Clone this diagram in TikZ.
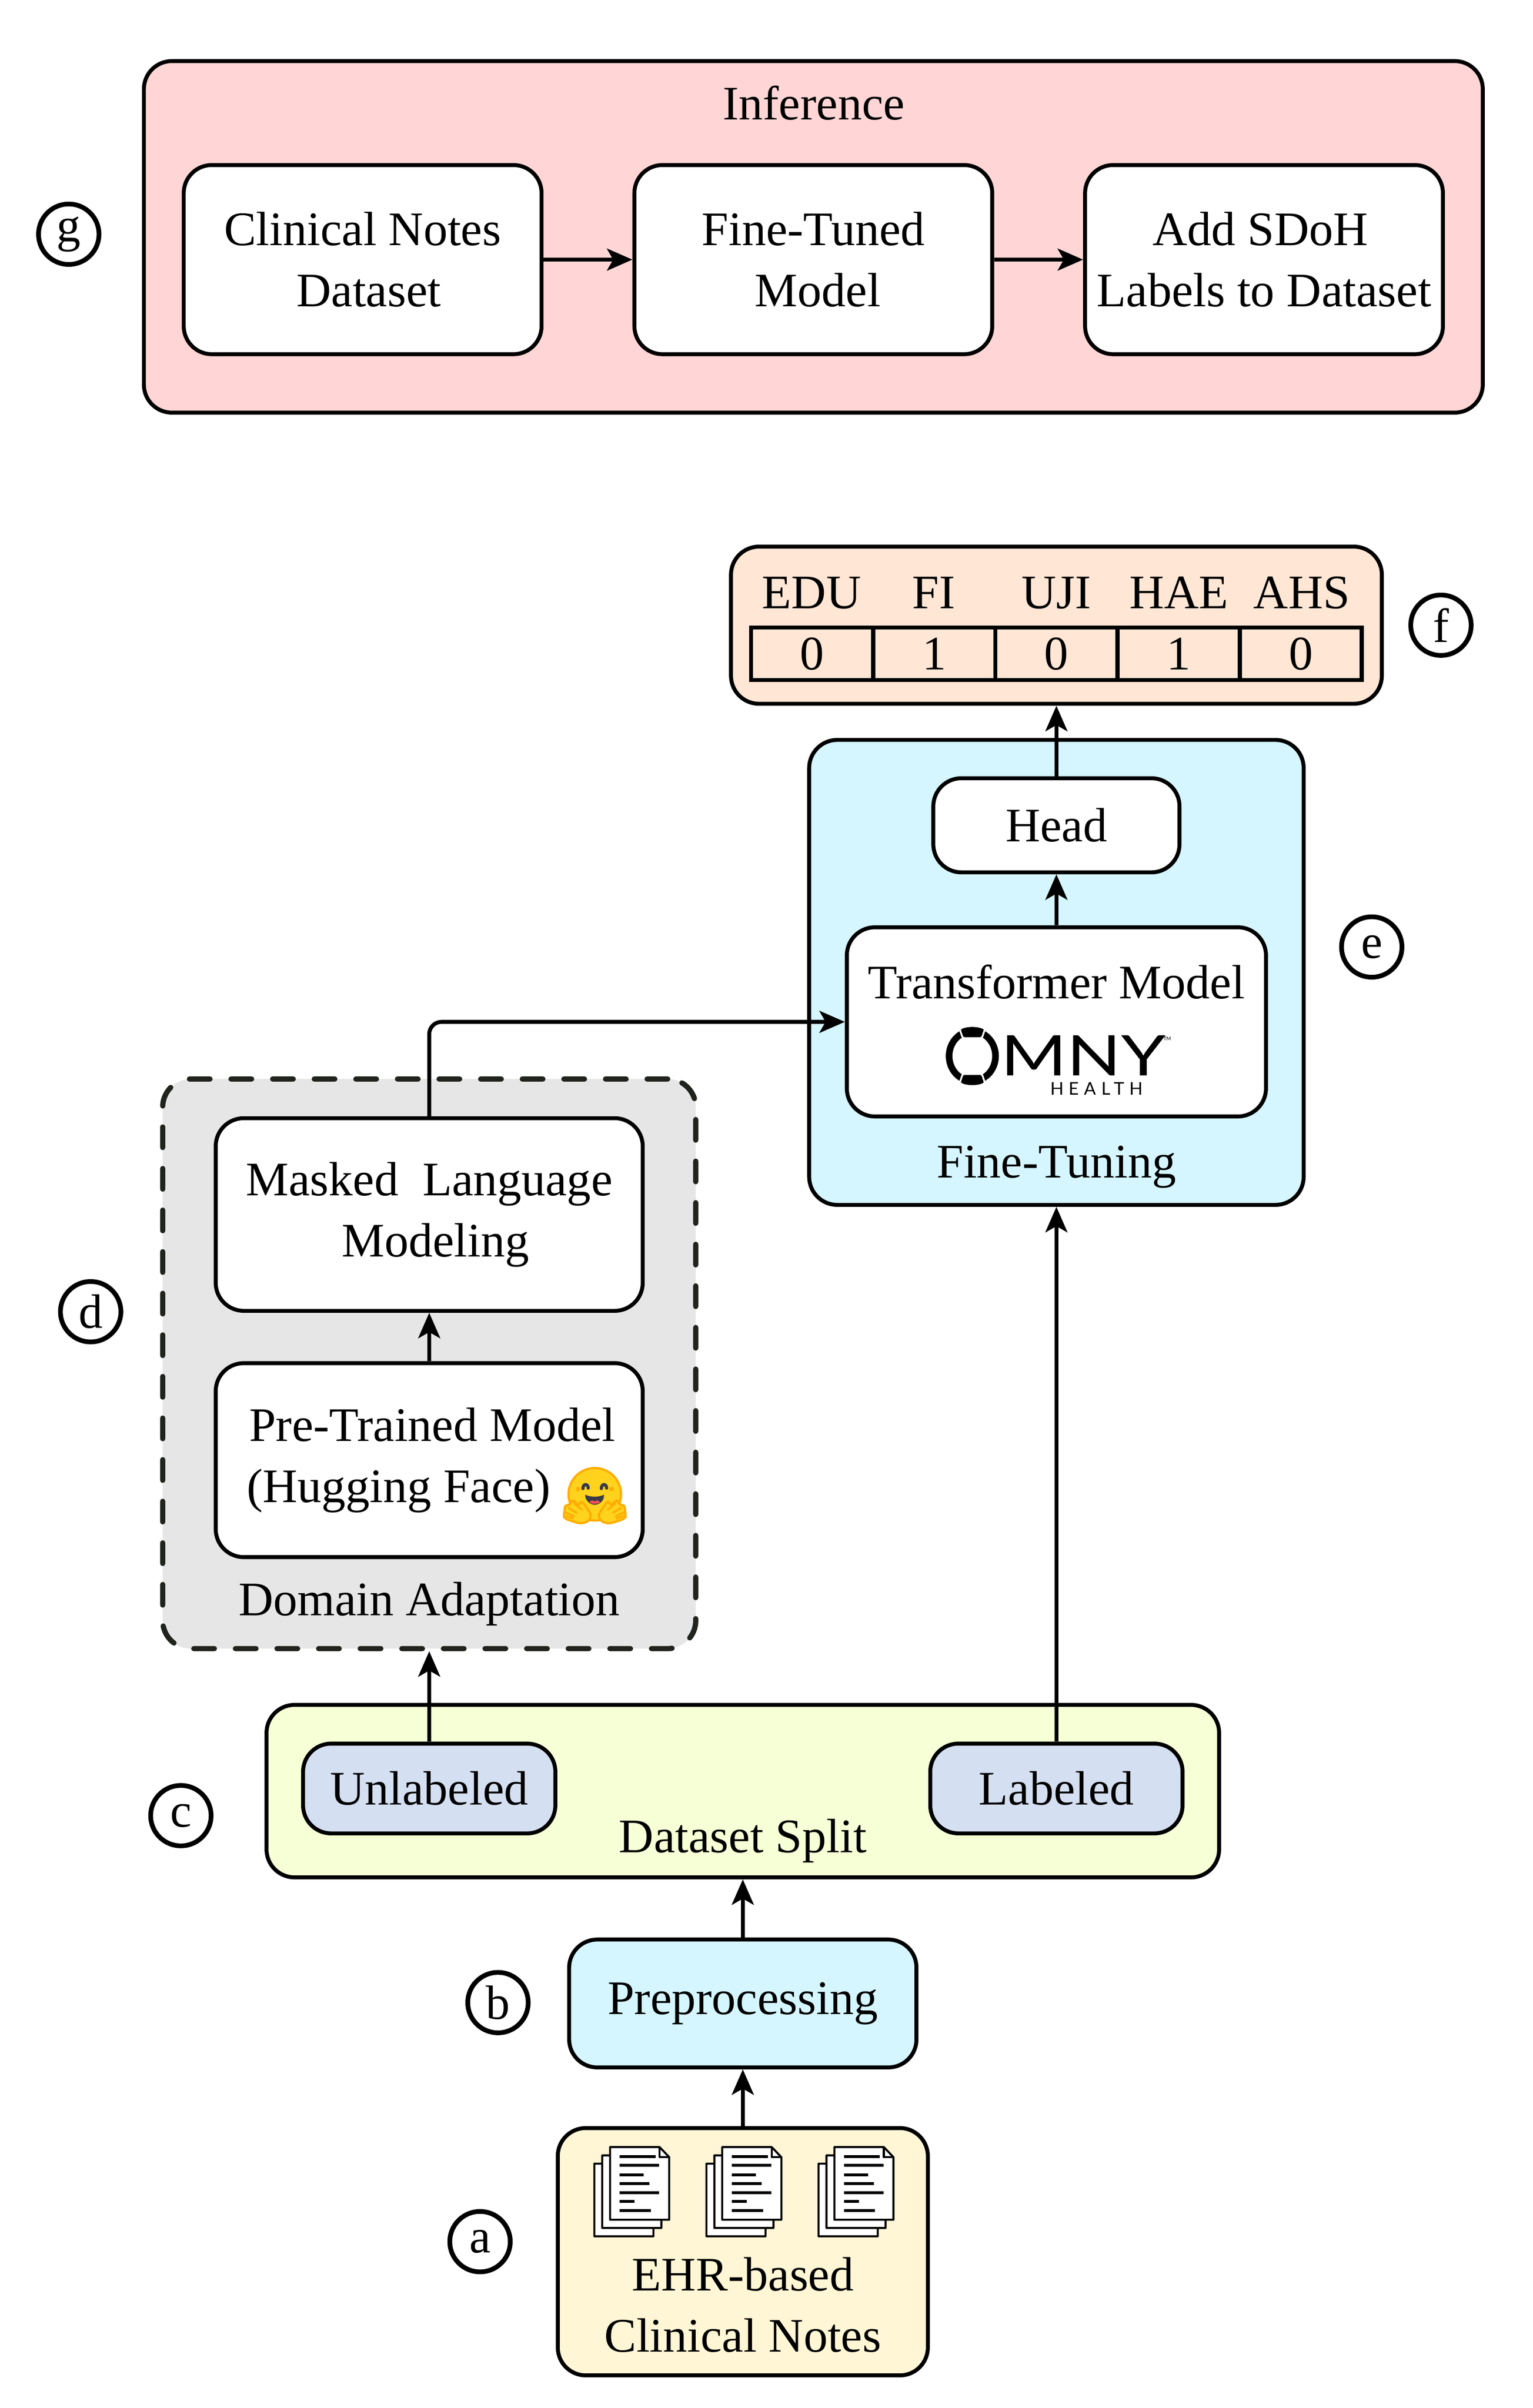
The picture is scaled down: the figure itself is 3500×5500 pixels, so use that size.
\documentclass[tikz,border=0pt]{standalone}
\usepackage{amsmath}
\usepackage{fontspec}
\setmainfont{Liberation Serif}
\newfontfamily\logofont{Lato}
\newfontfamily\logospaced[LetterSpace=30]{Lato}
\usepackage{tikz}
\usetikzlibrary{arrows.meta}

\definecolor{pinkfill}{HTML}{FFD5D5}
\definecolor{peachfill}{HTML}{FFE6D5}
\definecolor{skyfill}{HTML}{D5F6FF}
\definecolor{grayfill}{HTML}{E6E6E6}
\definecolor{limefill}{HTML}{F6FFD5}
\definecolor{lavfill}{HTML}{D5DFF2}
\definecolor{creamfill}{HTML}{FFF6D5}
\definecolor{dashink}{HTML}{20241C}
\definecolor{hugyellow}{HTML}{FFD21E}
\definecolor{hugorange}{HTML}{FFAD03}
\definecolor{hugdark}{HTML}{3A3B45}
\definecolor{hugred}{HTML}{F95159}

\tikzset{
  size/.style 2 args={minimum width=#1*0.25pt,minimum height=#2*0.25pt},
  box/.style={draw,line width=2.25pt,rounded corners=16pt,inner sep=0pt,align=center,
    font=\fontsize{27.5}{35}\selectfont},
  cell/.style={draw,line width=2.25pt,inner sep=0pt,minimum width=69.6pt,minimum height=30pt,
    font=\fontsize{27.5}{35}\selectfont},
  txt/.style={inner sep=0pt,align=center,font=\fontsize{27.5}{35}\selectfont},
  tag/.style={draw,circle,line width=2.7pt,inner sep=0pt,minimum size=34.5pt,
    font=\fontsize{27.5}{35}\selectfont},
  flow/.style={line width=2.25pt,-{Stealth[length=14.5pt,width=12.5pt,inset=3.5pt]}},
  docstack/.pic={
    \foreach \d in {-36,-18,0}{
      \draw[line width=1.15pt,fill=white,line join=round]
        (\d,\d*-1.05) -- (\d+113,\d*-1.05) -- (\d+135,\d*-1.05+23) -- (\d+135,\d*-1.05+166) -- (\d,\d*-1.05+166) -- cycle;
    }
    \draw[line width=1.15pt,line join=round] (113,0) -- (113,23) -- (135,23);
    \foreach \yy/\ee in {22/104,42/112,63/77,83/90,104/112,124/56,145/93}{
      \fill (22,\yy-3.3) rectangle (\ee,\yy+3.3);
    }
  },
  hugpalm/.pic={
    \draw[fill=hugyellow,draw=hugorange,line width=1.25pt,rounded corners=1.6pt]
      (-8,48) -- (-13,60) -- (-24,66) -- (-38,66) -- (-68,56) -- (-72,48) -- (-68,40) -- (-70,30)
      -- (-64,23) -- (-56,25) -- (-54,16) -- (-48,13) -- (-37,27) -- (-34,18) -- (-28,17) -- (-11,42) -- cycle;
    \draw[draw=hugorange,line width=1.1pt,line cap=round]
      (-60,31) -- (-42,42) (-66,42) -- (-48,50) (-64,50) -- (-50,55) (-47,21) -- (-30,35);
  },
  hugface/.pic={
    \draw[fill=hugyellow,draw=hugorange,line width=1.25pt] (0,0) circle[radius=60];
    \fill[hugorange] (-38,-12) circle[radius=5.3] (38,-12) circle[radius=5.3];
    \draw[hugdark,line width=1.8pt,line cap=round] (-27,-13) .. controls (-27,-25) and (-15,-25) .. (-15,-14);
    \draw[hugdark,line width=1.8pt,line cap=round] (15,-13) .. controls (15,-25) and (27,-25) .. (27,-14);
    \fill[hugdark] (-22,1) .. controls (-8,7) and (8,7) .. (21,1) .. controls (22,15) and (10,24) .. (0,24)
      .. controls (-10,24) and (-22,15) .. (-22,1) -- cycle;
    \fill[hugred] (-12,18) .. controls (-8,13) and (-3,13) .. (0,17) .. controls (3,13) and (8,13) .. (12,18)
      .. controls (8,23) and (-8,23) .. (-12,18) -- cycle;
    \pic[transform shape] at (0,0) {hugpalm};
    \pic[transform shape,xscale=-1] at (0,0) {hugpalm};
  }
}

\begin{document}
\begin{tikzpicture}[x=0.25pt,y=0.25pt,yscale=-1,xscale=1]
  \useasboundingbox (0,0) rectangle (3500,5500);

  % Inference
  \node (inference) [box,fill=pinkfill,size={3057}{803}] at (1857,541) {};
  \node (inferencetxt) [txt] at (1858,235) {Inference};
  \node (notesdata) [box,fill=white,size={817}{432}] at (828,593) {Clinical Notes\\\hspace*{7pt}Dataset};
  \node (finetuned) [box,fill=white,size={817}{432}] at (1857,593) {Fine-Tuned\\\hspace*{5pt}Model};
  \node (addlabels) [box,fill=white,size={817}{432}] at (2886,593) {Add SDoH\hspace*{4pt}\\Labels to Dataset};
  \draw[flow] (notesdata) -- (finetuned);
  \draw[flow] (finetuned) -- (addlabels);

  % SDoH outputs
  \node (outputs) [box,fill=peachfill,size={1486}{359}] at (2412,1428) {};
  \node (edu) [txt] at (1853,1354) {EDU};
  \node (fi) [txt] at (2132,1354) {FI};
  \node (uji) [txt] at (2412,1354) {UJI};
  \node (hae) [txt] at (2692,1354) {HAE};
  \node (ahs) [txt] at (2972,1354) {AHS};
  \node (cellA) [cell] at (1854,1493) {0};
  \node (cellB) [cell] at (2133,1493) {1};
  \node (cellC) [cell] at (2412,1493) {0};
  \node (cellD) [cell] at (2691,1493) {1};
  \node (cellE) [cell] at (2970,1493) {0};

  % Fine-Tuning
  \node (finetuning) [box,fill=skyfill,size={1129}{1062}] at (2412,2221) {};
  \node (head) [box,fill=white,size={562}{215}] at (2412,1885) {Head};
  \node (transformer) [box,fill=white,size={957}{432}] at (2412,2334) {};
  \node (transformertxt) [txt] at (2412,2243) {Transformer Model};
  \node (finetuningtxt) [txt] at (2412,2665) {Fine-Tuning};

  % logo
  \draw[line width=3.8pt] (2220,2412) ellipse[x radius=53,y radius=57];
  \draw[fill=black,draw=white,line width=1pt,rounded corners=1pt]
    (2191,2350) .. controls (2208,2342) and (2232,2342) .. (2249,2350) -- (2242,2371) -- (2198,2371) -- cycle;
  \draw[fill=black,draw=white,line width=1pt,rounded corners=1pt]
    (2191,2474) .. controls (2208,2482) and (2232,2482) .. (2249,2474) -- (2242,2453) -- (2198,2453) -- cycle;
  \node (logomny) [inner sep=0pt,xscale=1.27,font=\logofont\fontsize{32}{32}\selectfont] at (2473,2411) {MNY};
  \node (logohealth) [inner sep=0pt,font=\logospaced\fontsize{10}{10}\selectfont] at (2504,2486) {HEALTH};
  \node (logotm) [inner sep=0pt,font=\logofont\fontsize{2.9}{3}\selectfont] at (2665,2372) {TM};

  % Domain Adaptation
  \node (domain) [draw=dashink,fill=grayfill,line width=3pt,rounded corners=16pt,line cap=round,
    dash pattern=on 11.75pt off 12pt,size={1217}{1301}] at (980,3115) {};
  \node (masked) [box,fill=white,size={975}{440}] at (980,2774) {Masked\ \ Language\\\hspace*{7pt}Modeling};
  \node (pretrained) [box,fill=white,size={975}{443}] at (980,3335) {\hspace*{3.5pt}Pre-Trained Model\\(Hugging Face)\hspace*{35pt}};
  \node (domaintxt) [txt] at (980,3663) {Domain Adaptation};
  \pic[transform shape] at (1358,3413) {hugface};

  % Dataset Split
  \node (split) [box,fill=limefill,size={2175}{394}] at (1696,4091) {};
  \node (unlabeled) [box,fill=lavfill,size={576}{205}] at (980,4085) {Unlabeled};
  \node (labeled) [box,fill=lavfill,size={576}{205}] at (2412,4085) {Labeled};
  \node (splittxt) [txt] at (1696,4205) {Dataset Split};

  % Preprocessing
  \node (preproc) [box,fill=skyfill,size={793}{292}] at (1696,4576) {Preprocessing};

  % EHR notes
  \node (ehr) [box,fill=creamfill,size={845}{565}] at (1696,5143) {};
  \pic[transform shape] at (1393,4904) {docstack};
  \pic[transform shape] at (1649,4904) {docstack};
  \pic[transform shape] at (1905,4904) {docstack};
  \node (ehrtxt) [txt] at (1696,5264) {EHR-based\\Clinical Notes};

  % connectors
  \draw[flow] (ehr) -- (preproc);
  \draw[flow] (preproc) -- (split);
  \draw[flow] (unlabeled) -- (domain);
  \draw[flow] (labeled) -- (finetuning);
  \draw[flow] (pretrained) -- (masked);
  \draw[flow,rounded corners=7pt] (masked.north) |- (transformer.west);
  \draw[flow] (transformer) -- (head);
  \draw[flow] (head) -- (outputs);

  % letters
  \node (tagg) [tag] at (157,535) {g};
  \node (tagf) [tag] at (3290,1428) {f};
  \node (tage) [tag] at (3132,2163) {e};
  \node (tagd) [tag] at (207,2996) {d};
  \node (tagc) [tag] at (413,4147) {c};
  \node (tagb) [tag] at (1137,4574) {b};
  \node (taga) [tag] at (1096,5120) {a};
\end{tikzpicture}
\end{document}
